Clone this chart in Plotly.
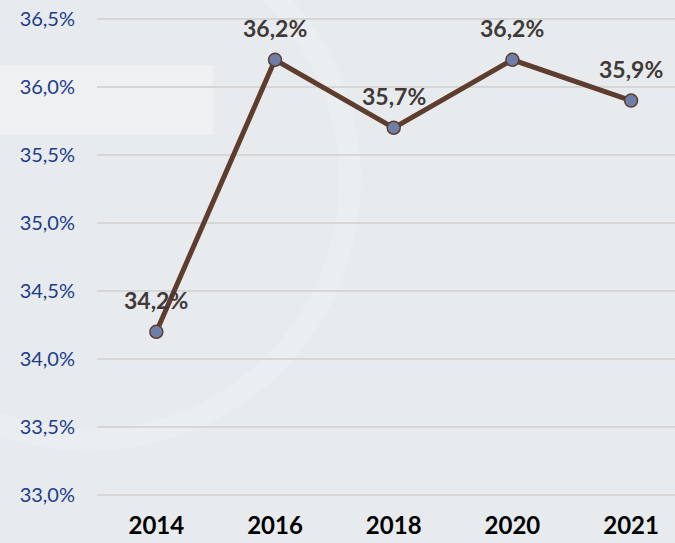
import plotly.graph_objects as go

years = ["2014", "2016", "2018", "2020", "2021"]
values = [34.2, 36.2, 35.7, 36.2, 35.9]
labels = ["34,2%", "36,2%", "35,7%", "36,2%", "35,9%"]
y_ticks = [33.0, 33.5, 34.0, 34.5, 35.0, 35.5, 36.0, 36.5]
y_tick_text = ["33,0%", "33,5%", "34,0%", "34,5%", "35,0%", "35,5%", "36,0%", "36,5%"]

W, H = 675, 543
L, R, T, B = 97, 0, 10, 40
pw, ph = W - L - R, H - T - B

def px(x):
    return (x - L) / pw

def py(y):
    return (H - B - y) / ph

xpos = list(range(len(years)))

fig = go.Figure()
fig.add_trace(go.Scatter(
    x=xpos, y=values, mode="lines+markers",
    line=dict(color="#5E3D2E", width=5),
    marker=dict(size=13, color="#6F7DA9", line=dict(color="#5E3D2E", width=1.5)),
    hoverinfo="skip", showlegend=False,
))

for xi, v, lab in zip(xpos, values, labels):
    fig.add_annotation(x=xi, y=v, xref="x", yref="y", text=lab, showarrow=False, yshift=32,
                       font=dict(family="Lato", size=23, color="#3F3A38", weight="bold"))

# faint watermark shapes
fig.add_shape(type="rect", xref="paper", yref="paper",
              x0=px(0), x1=px(213), y0=py(135), y1=py(65),
              fillcolor="white", opacity=0.28, line_width=0, layer="below")
fig.add_shape(type="circle", xref="paper", yref="paper",
              x0=px(90 - 260), x1=px(90 + 260), y0=py(180 + 260), y1=py(180 - 260),
              line=dict(color="white", width=22), opacity=0.16, layer="below")

fig.update_layout(
    width=W, height=H,
    margin=dict(l=L, r=R, t=T, b=B),
    paper_bgcolor="#E8EBEE", plot_bgcolor="rgba(0,0,0,0)",
    xaxis=dict(range=[-0.5, 4.37], tickvals=xpos, ticktext=years,
               showgrid=False, zeroline=False, showline=False, ticks="", ticklabelstandoff=6,
               tickfont=dict(family="Lato", size=24, color="#000000", weight="bold")),
    yaxis=dict(range=[33.0 - 8 / 136, 36.5 + 9 / 136], tickvals=y_ticks, ticktext=y_tick_text,
               showgrid=True, gridcolor="#D6D6D6",
               gridwidth=1.5, zeroline=False, showline=False, ticks="",
               ticklabelstandoff=21,
               tickfont=dict(family="Lato", size=20, color="#203C8C")),
)
fig.write_html("out.html", config={"displayModeBar": False},
               post_script="document.body.style.margin='0';document.body.style.overflow='hidden';")
